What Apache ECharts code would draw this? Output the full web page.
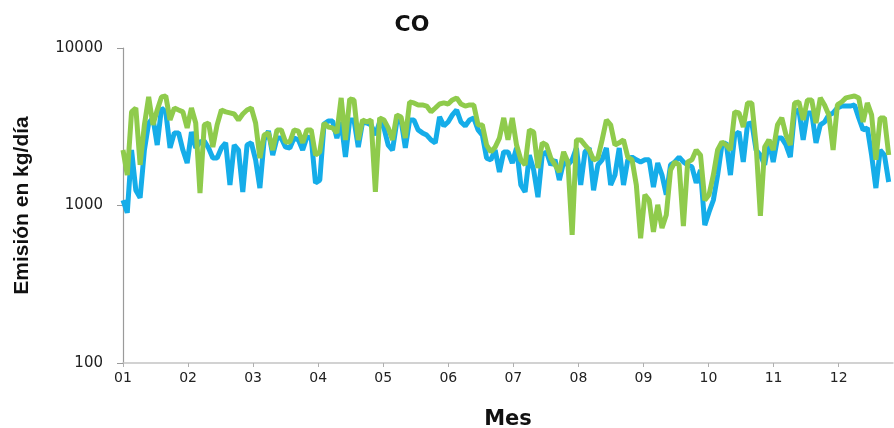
<!DOCTYPE html>
<html>
<head>
<meta charset="utf-8">
<title>CO</title>
<script src="https://cdn.jsdelivr.net/npm/echarts@6/dist/echarts.min.js"></script>
<style>
  html, body { margin: 0; padding: 0; background: #fff; }
  #chart { width: 894px; height: 428px; }
</style>
</head>
<body>
<div id="chart"></div>
<script>
// emisión diaria de CO (kg/día), una lectura cada 2 días desde el 1 de enero
const monthLabels = ['01', '02', '03', '04', '05', '06', '07', '08', '09', '10', '11', '12']
const dayStep = 2

const blueSeries = [
  1080, 900, 2250, 1250, 1120, 2250, 3340, 3600, 2420, 4160, 3930, 2320, 2890, 2890, 2250, 1860,
  2930, 2320, 2530, 2570, 2320, 2000, 2000, 2320, 2500, 1350, 2420, 2250, 1220, 2420, 2500, 1950,
  1290, 2610, 2970, 2090, 2680, 2680, 2350, 2320, 2680, 2610, 2250, 2720, 2680, 1390, 1450,
  3290, 3440, 3440, 2680, 3390, 2030, 3490, 3490, 2350, 3390, 3340, 3250, 2800, 3390, 3110,
  2420, 2250, 3390, 3490, 2320, 3490, 3490, 3020, 2890, 2800, 2610, 2500, 3650, 3200, 3390,
  3760, 4040, 3390, 3200, 3490, 3600, 3020, 2800, 2000, 1950, 2250, 1630, 2190, 2190, 1860,
  2320, 1350, 1220, 2090, 1680, 1130, 2090, 2190, 1810, 1950, 1450, 1890, 1810, 1950, 2320,
  1350, 2190, 2320, 1250, 1810, 1950, 2320, 1350, 1560, 2320, 1350, 1950, 2030, 1950, 1890,
  1950, 1950, 1310, 1860, 1560, 1170, 1810, 1890, 2030, 1890, 1810, 1760, 1390, 1680, 750,
  910, 1080, 1560, 2420, 2500, 1560, 2800, 2930, 1890, 3290, 3340, 2250, 2090, 1810, 2610,
  1890, 2680, 2680, 2420, 2030, 3930, 4040, 2610, 3870, 3870, 2500, 3250, 3390, 3760, 3870,
  4160, 4280, 4280, 4280, 4350, 3600, 3020, 3110, 2090, 1290, 2250, 2090, 1410
]

const greenSeries = [
  2250, 1560, 3930, 4160, 1810, 3250, 4890, 3250, 4040, 4890, 4960, 3490, 4160, 4040, 3930, 3110,
  4160, 3340, 1200, 3250, 3340, 2350, 3250, 4040, 3930, 3870, 3810, 3490, 3810, 4040, 4160, 3340,
  2000, 2800, 2890, 2250, 3020, 3020, 2530, 2530, 3020, 2970, 2500, 3020, 3020, 2090, 2190,
  3340, 3150, 3110, 2890, 4820, 2610, 4750, 4680, 2610, 3490, 3390, 3490, 1220, 3600, 3490,
  3110, 2610, 3760, 3650, 2680, 4540, 4480, 4350, 4350, 4280, 3930, 4160, 4410, 4480, 4410,
  4680, 4820, 4410, 4280, 4350, 4350, 3250, 3250, 2420, 2190, 2350, 2680, 3600, 2610, 3600,
  2420, 1950, 1810, 3020, 2930, 1730, 2500, 2420, 2000, 1810, 1630, 2190, 1890, 650, 2610,
  2610, 2420, 2250, 1950, 2000, 2610, 3490, 3250, 2420, 2500, 2610, 2030, 1950, 1350, 620,
  1170, 1080, 680, 1010, 720, 870, 1680, 1890, 1810, 740, 1890, 1950, 2250, 2090, 1080,
  1170, 1560, 2250, 2530, 2420, 2250, 3930, 3870, 3150, 4480, 4480, 2420, 860, 2350, 2610,
  2250, 3250, 3600, 2800, 2420, 4480, 4540, 3490, 4680, 4680, 3340, 4820, 4350, 3760, 2250,
  4350, 4540, 4820, 4890, 4960, 4820, 3390, 4480, 3760, 1950, 3600, 3600, 2090
]

const yTicks = [100, 1000, 10000]

const daysPerMonth = 365 / 12
const monthStarts = monthLabels.map((m, k) => k * daysPerMonth)

const toPoints = (values) => values.map((v, i) => [i * dayStep, v])

const chart = echarts.init(document.getElementById('chart'), null, { renderer: 'canvas' })

const labelFont = 'DejaVu Sans, Liberation Sans, sans-serif'

const option = {
  backgroundColor: '#ffffff',
  animation: false,
  title: {
    text: 'CO',
    left: 407,
    top: 9,
    textAlign: 'center',
    textStyle: {
      fontFamily: labelFont,
      fontWeight: 'bold',
      fontSize: 22,
      color: '#111'
    }
  },
  grid: {
    left: 123,
    right: 1,
    top: 48,
    bottom: 65,
    containLabel: false,
    outerBoundsMode: 'none'
  },
  xAxis: {
    type: 'value',
    min: 0,
    max: 360,
    name: 'Mes',
    nameLocation: 'middle',
    nameGap: 46,
    nameTextStyle: {
      fontFamily: labelFont,
      fontWeight: 'bold',
      fontSize: 21,
      color: '#111'
    },
    axisLine: { show: true, lineStyle: { color: '#c4c4c4', width: 1.5 } },
    axisTick: {
      show: true,
      length: 4,
      customValues: monthStarts,
      lineStyle: { color: '#b0b0b0' }
    },
    axisLabel: {
      customValues: monthStarts,
      margin: 8,
      fontFamily: labelFont,
      fontSize: 14,
      color: '#222',
      formatter: (v) => monthLabels[Math.round(v / daysPerMonth)] || ''
    },
    splitLine: { show: false }
  },
  yAxis: {
    type: 'log',
    logBase: 10,
    min: yTicks[0],
    max: yTicks[yTicks.length - 1],
    name: 'Emisión en kg/día',
    nameLocation: 'middle',
    nameGap: 90,
    nameRotate: 90,
    nameTextStyle: {
      fontFamily: 'Liberation Sans, Arial, sans-serif',
      fontWeight: 'bold',
      fontSize: 21,
      color: '#111'
    },
    axisLine: { show: true, lineStyle: { color: '#9a9a9a', width: 1.2 } },
    axisTick: { show: true, length: 6, lineStyle: { color: '#9a9a9a' } },
    axisLabel: {
      margin: 20,
      fontFamily: labelFont,
      fontSize: 15,
      color: '#222',
      formatter: (v) => String(v)
    },
    splitLine: { show: false }
  },
  series: [
    {
      name: 'azul',
      type: 'line',
      data: toPoints(blueSeries),
      showSymbol: false,
      lineStyle: { color: '#15ade9', width: 5 },
      itemStyle: { color: '#15ade9' },
      z: 2
    },
    {
      name: 'verde',
      type: 'line',
      data: toPoints(greenSeries),
      showSymbol: false,
      lineStyle: { color: '#8fcb4c', width: 5 },
      itemStyle: { color: '#8fcb4c' },
      z: 3
    }
  ]
}

chart.setOption(option)
</script>
</body>
</html>
